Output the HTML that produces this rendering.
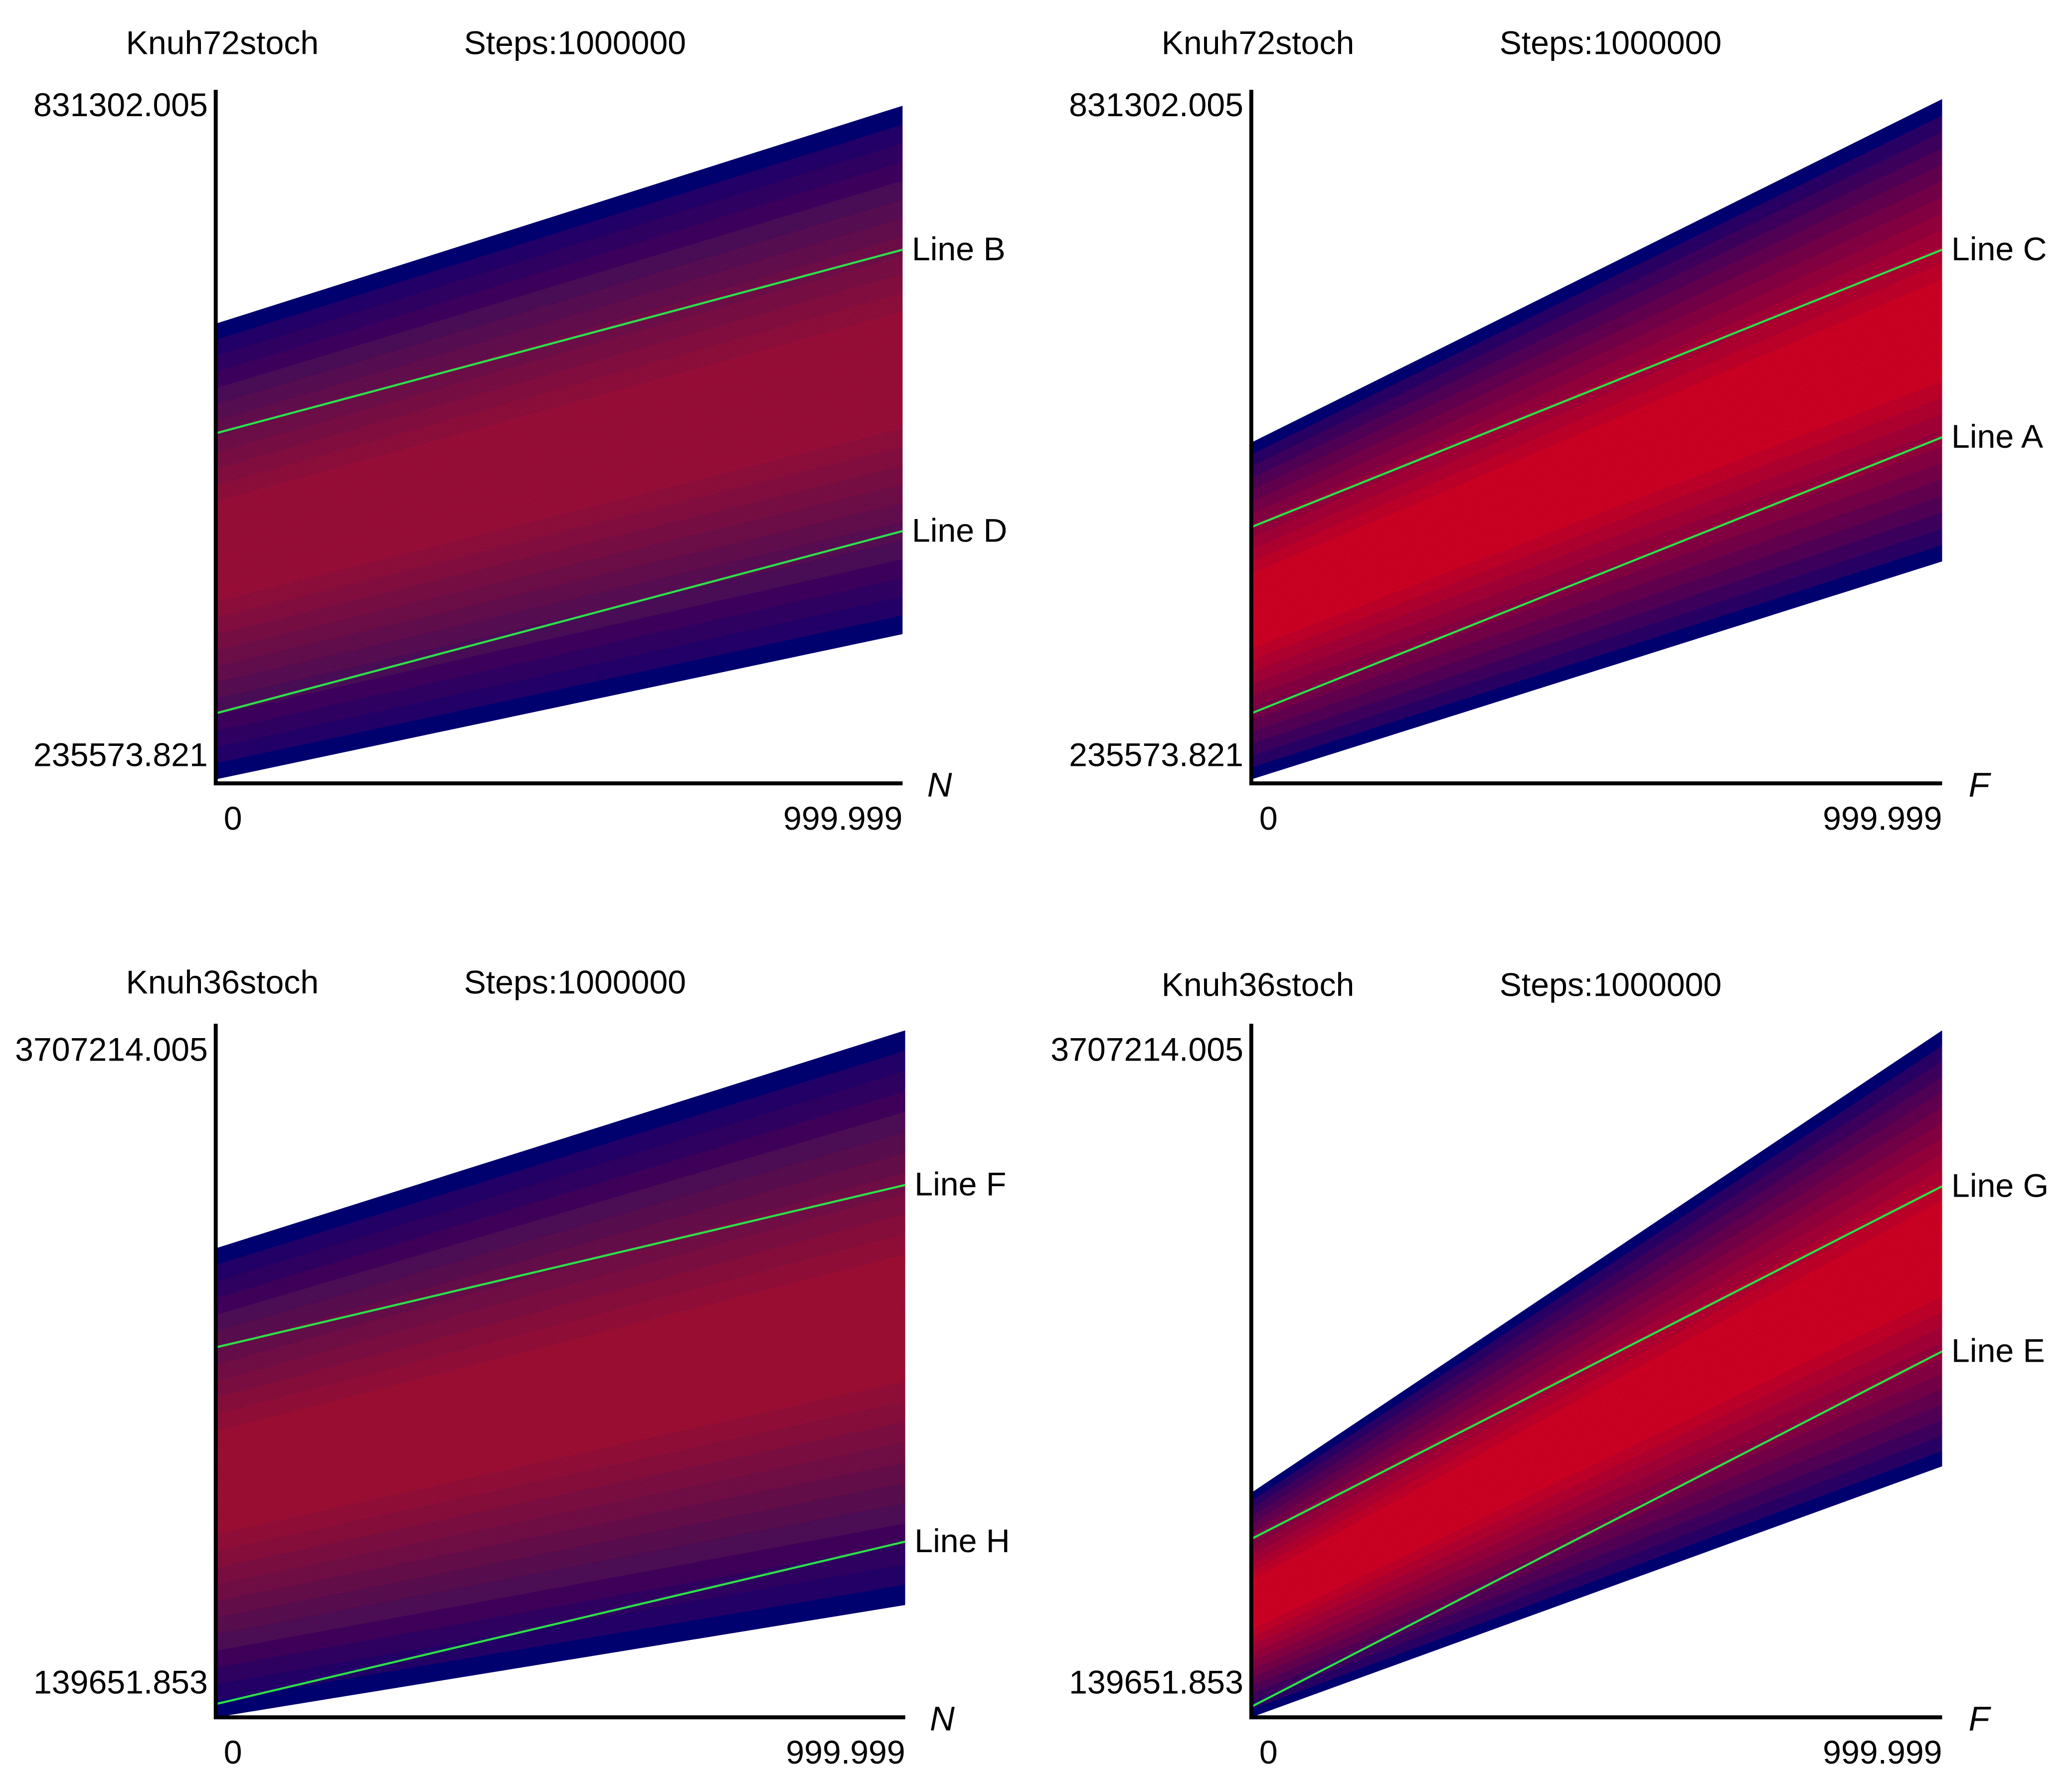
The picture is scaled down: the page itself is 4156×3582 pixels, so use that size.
<!DOCTYPE html>
<html><head><meta charset="utf-8">
<style>
html,body{margin:0;padding:0;background:#fff;}
svg{display:block;}
text{font-family:"Liberation Sans",sans-serif;fill:#000;}
</style></head>
<body>
<svg id="chart" width="4156" height="3582" viewBox="0 0 1568 1352" xmlns="http://www.w3.org/2000/svg">
<defs>
<filter id="grain" x="0" y="0" width="100%" height="100%">
<feTurbulence type="fractalNoise" baseFrequency="0.9" numOctaves="1" seed="3" result="n"/>
<feColorMatrix in="n" type="matrix" values="0 0 0 0 0  0 0 0 0 0  0 0 0 0 0  0 0 0 0.3 0" result="a"/>
<feComposite in="a" in2="SourceGraphic" operator="in" result="g"/>
<feMerge><feMergeNode in="SourceGraphic"/><feMergeNode in="g"/></feMerge>
</filter>
</defs>
</svg>
<script>
// ---- data ----
const panelTitles = ["Knuh72stoch","Knuh72stoch","Knuh36stoch","Knuh36stoch"];
const stepsLabel = "Steps:1000000";
const xTickLabels = ["0","999.999"];
const xAxisTitles = ["N","F","N","F"];
const yMinTop = 235573.821, yMaxTop = 831302.005;
const yMinBottom = 139651.853, yMaxBottom = 3707214.005;
const yTickTop = ["831302.005","235573.821"];
const yTickBottom = ["3707214.005","139651.853"];
const lineNames = [["Line B","Line D"],["Line C","Line A"],["Line F","Line H"],["Line G","Line E"]];
const upperLineValues = [[535750,698100],[452820,698100],[2072750,2946800],[1042200,2939690]];
const lowerLineValues = [[288130,449320],[288130,532240],[153860,1027990],[139652,2051350]];
const envTop = [[632700,825400],[527570,831302],[2605750,3778450],[1290980,3778450]];
const envBottom = [[229730,358210],[229730,422450],[82800,686900],[82800,1433100]];
// ---- layout ----
const NS="http://www.w3.org/2000/svg";
const svg=document.getElementById('chart');
const panels=[
 {x0:163,x1:683,yTop:68,yAxis:593,py0:585,py1:75,min:yMinTop,max:yMaxTop,ticks:yTickTop,titleY:33,tickY:[80,572],inner:[160,20,60]},
 {x0:947,x1:1470,yTop:68,yAxis:593,py0:585,py1:75,min:yMinTop,max:yMaxTop,ticks:yTickTop,titleY:33,tickY:[80,572],inner:[215,15,40]},
 {x0:163,x1:685,yTop:775,yAxis:1300,py0:1292,py1:790,min:yMinBottom,max:yMaxBottom,ticks:yTickBottom,titleY:744,tickY:[795,1274],inner:[165,20,55]},
 {x0:947,x1:1470,yTop:775,yAxis:1300,py0:1292,py1:790,min:yMinBottom,max:yMaxBottom,ticks:yTickBottom,titleY:746,tickY:[795,1274],inner:[215,15,40]}
];
const edgeColor=[16,16,120];
const NL=12;
function mk(tag,attrs,parent){const e=document.createElementNS(NS,tag);for(const k in attrs)e.setAttribute(k,attrs[k]);(parent||svg).appendChild(e);return e;}
panels.forEach((p,i)=>{
 const ys=v=>p.py0+(v-p.min)/(p.max-p.min)*(p.py1-p.py0);
 const g=mk('g',{});
 
 
 const cid='clip'+i;
 const cp=mk('clipPath',{id:cid},g);
 mk('rect',{x:p.x0,y:p.yTop,width:p.x1-p.x0,height:p.yAxis-p.yTop},cp);
 const sg=mk('g',{'clip-path':'url(#'+cid+')',filter:'url(#grain)'},g);
 
 
 const tL=ys(envTop[i][0]),tR=ys(envTop[i][1]),bL=ys(envBottom[i][0]),bR=ys(envBottom[i][1]);
 const cL=(tL+bL)/2,cR=(tR+bR)/2;
 for(let k=0;k<NL;k++){
  const f=k/NL*0.85;
  const m=Math.min(1,Math.pow(k/(NL-1),0.8));
  const col=`rgb(${Math.round(edgeColor[0]+(p.inner[0]-edgeColor[0])*m)},${Math.round(edgeColor[1]+(p.inner[1]-edgeColor[1])*m)},${Math.round(edgeColor[2]+(p.inner[2]-edgeColor[2])*m)})`;
  const a=tL+(cL-tL)*f,b=tR+(cR-tR)*f,c=bR+(cR-bR)*f,d=bL+(cL-bL)*f;
  const poly=mk('polygon',{points:`${p.x0},${a} ${p.x1},${b} ${p.x1},${c} ${p.x0},${d}`,fill:col},sg);
  
  
 }
 [upperLineValues[i],lowerLineValues[i]].forEach((lv,k)=>{
  const ln=mk('line',{x1:p.x0,y1:ys(lv[0]),x2:p.x1,y2:ys(lv[1]),stroke:'#2ee04a','stroke-width':1.6},g);
  
  
  const t=mk('text',{x:p.x1+7,y:ys(lv[1])+8,'font-size':25},g);
  t.textContent=lineNames[i][k];
  
  
 });
 const ax=mk('path',{d:`M${p.x0},${p.yTop} L${p.x0},${p.yAxis} L${p.x1},${p.yAxis}`,stroke:'#000','stroke-width':3,fill:'none'},g);
 
 
 const tt=mk('text',{x:p.x0+5,y:p.titleY+8,'font-size':25,'text-anchor':'middle'},g);
 tt.textContent=panelTitles[i];
 
 
 const st=mk('text',{x:p.x0+272,y:p.titleY+8,'font-size':25,'text-anchor':'middle'},g);
 st.textContent=stepsLabel;
 
 
 p.ticks.forEach((lbl,k)=>{
  const t=mk('text',{x:p.x0-6,y:p.tickY[k]+8,'font-size':25,'text-anchor':'end'},g);
  t.textContent=lbl;
  
  
 });
 const x0t=mk('text',{x:p.x0+13,y:p.yAxis+35,'font-size':25,'text-anchor':'middle'},g);
 x0t.textContent=xTickLabels[0];
 
 
 const x1t=mk('text',{x:p.x1,y:p.yAxis+35,'font-size':25,'text-anchor':'end'},g);
 x1t.textContent=xTickLabels[1];
 
 
 const xa=mk('text',{x:p.x1+28,y:p.yAxis+10,'font-size':26,'font-style':'italic','text-anchor':'middle'},g);
 xa.textContent=xAxisTitles[i];
 
 
});
</script>
</body></html>
